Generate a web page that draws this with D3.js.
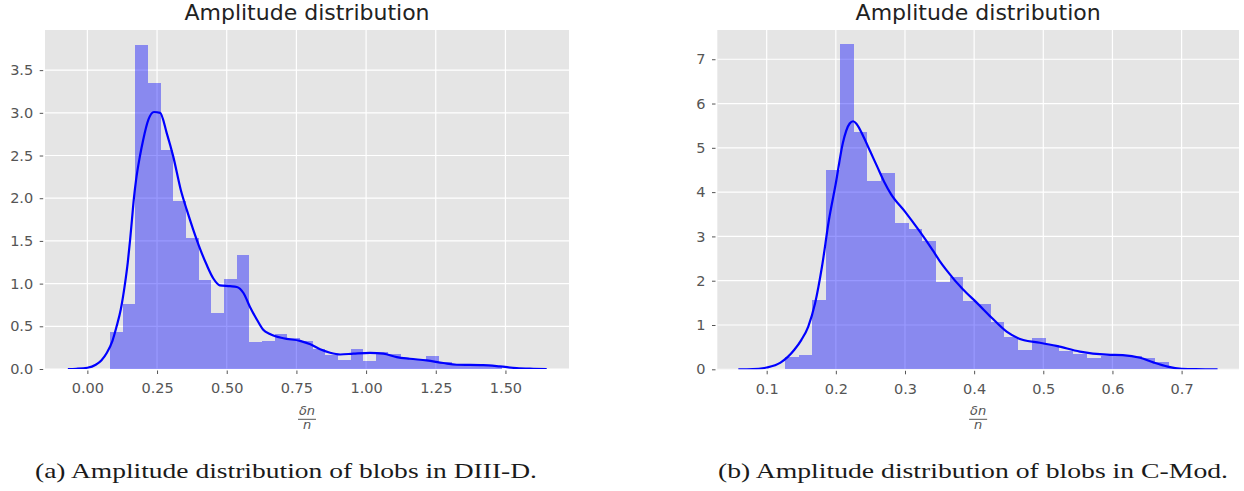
<!DOCTYPE html>
<html>
<head>
<meta charset="utf-8">
<script src="https://cdn.jsdelivr.net/npm/d3@7/dist/d3.min.js"></script>
<style>
  html, body { margin: 0; padding: 0; background: #ffffff; }
  svg { display: block; }
</style>
</head>
<body>
<svg id="chart" width="1244" height="491"></svg>
<script>
// ---------------- DATA ----------------
// (a) DIII-D
const leftBinEdges = [0.0814, 0.1268, 0.1722, 0.2176, 0.2630, 0.3085, 0.3539, 0.3993, 0.4447, 0.4901,
  0.5355, 0.5809, 0.6263, 0.6717, 0.7171, 0.7626, 0.8080, 0.8534, 0.8988, 0.9442, 0.9896,
  1.0350, 1.0804, 1.1258, 1.1712, 1.2167, 1.2621, 1.3075, 1.3529, 1.3983, 1.4437, 1.4891];
const leftBinHeights = [0.43, 0.76, 3.80, 3.35, 2.57, 1.97, 1.53, 1.04, 0.65, 1.05,
  1.33, 0.32, 0.33, 0.41, 0.36, 0.33, 0.23, 0.16, 0.11, 0.23,
  0.09, 0.20, 0.17, 0.12, 0.11, 0.15, 0.08, 0.06, 0.05, 0.05, 0.04];
const leftKdeX = [-0.07, -0.04, 0.00, 0.03, 0.05, 0.07, 0.09, 0.105, 0.12, 0.135, 0.145, 0.153, 0.16, 0.167,
  0.175, 0.189, 0.20, 0.219, 0.239, 0.261, 0.285, 0.308, 0.335, 0.357, 0.38, 0.404, 0.428, 0.452, 0.475,
  0.512, 0.536, 0.56, 0.583, 0.608, 0.631, 0.655, 0.703, 0.763, 0.80, 0.835, 0.871, 0.907, 0.954, 1.014,
  1.062, 1.11, 1.157, 1.217, 1.277, 1.325, 1.42, 1.48, 1.54, 1.60, 1.648];
const leftKdeY = [0.0, 0.003, 0.015, 0.05, 0.10, 0.19, 0.33, 0.50, 0.70, 1.00, 1.25, 1.50, 1.75, 2.00,
  2.22, 2.50, 2.68, 2.92, 3.01, 3.00, 2.76, 2.49, 2.10, 1.86, 1.63, 1.41, 1.22, 1.06, 0.98,
  0.97, 0.96, 0.89, 0.73, 0.58, 0.46, 0.41, 0.36, 0.33, 0.29, 0.23, 0.19, 0.17, 0.18, 0.19,
  0.18, 0.14, 0.12, 0.10, 0.07, 0.05, 0.045, 0.03, 0.01, 0.003, 0.0];
const leftXTicks = [0.00, 0.25, 0.50, 0.75, 1.00, 1.25, 1.50];
const leftXTickLabels = ["0.00", "0.25", "0.50", "0.75", "1.00", "1.25", "1.50"];
const leftYTicks = [0.0, 0.5, 1.0, 1.5, 2.0, 2.5, 3.0, 3.5];
const leftYTickLabels = ["0.0", "0.5", "1.0", "1.5", "2.0", "2.5", "3.0", "3.5"];

// (b) C-Mod
const rightBinEdges = [0.1265, 0.1463, 0.1662, 0.1860, 0.2059, 0.2257, 0.2455, 0.2654, 0.2852, 0.3051,
  0.3249, 0.3447, 0.3646, 0.3844, 0.4043, 0.4241, 0.4439, 0.4638, 0.4836, 0.5035,
  0.5233, 0.5431, 0.5630, 0.5828, 0.6027, 0.6225, 0.6423, 0.6622, 0.6820, 0.7019];
const rightBinHeights = [0.28, 0.33, 1.56, 4.50, 7.34, 5.35, 4.26, 4.44, 3.30, 3.16,
  2.90, 1.96, 2.09, 1.54, 1.47, 1.07, 0.74, 0.44, 0.71, 0.55,
  0.42, 0.35, 0.26, 0.30, 0.30, 0.29, 0.25, 0.16, 0.04];
const rightKdeX = [0.059, 0.08, 0.10, 0.12, 0.14, 0.15, 0.16, 0.17, 0.18, 0.19, 0.20, 0.21, 0.22, 0.225,
  0.23, 0.24, 0.25, 0.26, 0.27, 0.28, 0.30, 0.32, 0.34, 0.35, 0.36, 0.384, 0.404, 0.425, 0.447, 0.471,
  0.495, 0.519, 0.553, 0.592, 0.615, 0.64, 0.66, 0.68, 0.70, 0.72, 0.752];
const rightKdeY = [0.0, 0.005, 0.04, 0.15, 0.44, 0.66, 0.96, 1.49, 2.32, 3.37, 4.20, 5.10, 5.55, 5.60,
  5.54, 5.25, 4.91, 4.57, 4.23, 3.95, 3.56, 3.14, 2.69, 2.45, 2.24, 1.80, 1.50, 1.17, 0.85, 0.66,
  0.60, 0.53, 0.40, 0.33, 0.32, 0.26, 0.15, 0.06, 0.012, 0.002, 0.0];
const rightXTicks = [0.1, 0.2, 0.3, 0.4, 0.5, 0.6, 0.7];
const rightXTickLabels = ["0.1", "0.2", "0.3", "0.4", "0.5", "0.6", "0.7"];
const rightYTicks = [0, 1, 2, 3, 4, 5, 6, 7];
const rightYTickLabels = ["0", "1", "2", "3", "4", "5", "6", "7"];

const titles = ["Amplitude distribution", "Amplitude distribution"];
const captions = ["(a) Amplitude distribution of blobs in DIII-D.", "(b) Amplitude distribution of blobs in C-Mod."];

// ---------------- LAYOUT ----------------
const svg = d3.select("#chart");
const panels = [
  { x0: 45, x1: 569, y0: 30, y1: 369, xDomain: [-0.152, 1.728], yDomain: [0, 3.97],
    edges: leftBinEdges, heights: leftBinHeights, kx: leftKdeX, ky: leftKdeY,
    xt: leftXTicks, xtl: leftXTickLabels, yt: leftYTicks, ytl: leftYTickLabels,
    title: titles[0], caption: captions[0], capX0: 35, capX1: 537 },
  { x0: 717.3, x1: 1239, y0: 30, y1: 369.3, xDomain: [0.0286, 0.783], yDomain: [0, 7.66],
    edges: rightBinEdges, heights: rightBinHeights, kx: rightKdeX, ky: rightKdeY,
    xt: rightXTicks, xtl: rightXTickLabels, yt: rightYTicks, ytl: rightYTickLabels,
    title: titles[1], caption: captions[1], capX0: 718, capX1: 1228 }
];

const tickColor = "#555555";
const tickFont = "DejaVu Sans, sans-serif";

panels.forEach((p, i) => {
  const x = d3.scaleLinear().domain(p.xDomain).range([p.x0, p.x1]);
  const y = d3.scaleLinear().domain(p.yDomain).range([p.y1, p.y0]);
  const g = svg.append("g");

  // background
  g.append("rect").attr("x", p.x0).attr("y", p.y0)
    .attr("width", p.x1 - p.x0).attr("height", p.y1 - p.y0).attr("fill", "#e5e5e5");

  const clipId = "clip" + i;
  svg.append("clipPath").attr("id", clipId).append("rect")
    .attr("x", p.x0).attr("y", p.y0).attr("width", p.x1 - p.x0).attr("height", p.y1 - p.y0);

  // grid
  const grid = g.append("g").attr("clip-path", `url(#${clipId})`);
  grid.selectAll("line.gx").data(p.xt).join("line")
    .attr("x1", d => x(d)).attr("x2", d => x(d)).attr("y1", p.y0).attr("y2", p.y1)
    .attr("stroke", "#ffffff").attr("stroke-width", 1.2);
  grid.selectAll("line.gy").data(p.yt).join("line").attr("class", "gy")
    .attr("x1", p.x0).attr("x2", p.x1).attr("y1", d => y(d)).attr("y2", d => y(d))
    .attr("stroke", "#ffffff").attr("stroke-width", 1.2);

  // bars
  const bins = p.heights.map((h, k) => ({ a: p.edges[k], b: p.edges[k + 1], h }));
  g.append("g").attr("clip-path", `url(#${clipId})`)
    .selectAll("rect").data(bins).join("rect")
    .attr("x", d => x(d.a)).attr("width", d => x(d.b) - x(d.a))
    .attr("y", d => y(d.h)).attr("height", d => y(0) - y(d.h))
    .attr("fill", "#0000ff").attr("fill-opacity", 0.4)
    .attr("shape-rendering", "crispEdges");

  // kde
  const pts = p.kx.map((v, k) => [v, p.ky[k]]);
  g.append("path").attr("clip-path", `url(#${clipId})`)
    .datum(pts)
    .attr("d", d3.line().x(d => x(d[0])).y(d => y(d[1])).curve(d3.curveMonotoneX))
    .attr("fill", "none").attr("stroke", "#0000ff").attr("stroke-width", 2.2);

  // x axis
  const xAxis = d3.axisBottom(x).tickValues(p.xt).tickFormat((d, k) => p.xtl[k])
    .tickSizeInner(3.5).tickSizeOuter(0).tickPadding(9);
  const gx = g.append("g").attr("transform", `translate(0,${p.y1 + 1.5})`).call(xAxis);
  gx.select(".domain").remove();
  gx.selectAll("line").attr("stroke", tickColor).attr("stroke-width", 1);
  gx.selectAll("text").attr("fill", tickColor).style("font-family", tickFont).style("font-size", "14.5px");

  // y axis
  const yAxis = d3.axisLeft(y).tickValues(p.yt).tickFormat((d, k) => p.ytl[k])
    .tickSizeInner(3.5).tickSizeOuter(0).tickPadding(6.5);
  const gy = g.append("g").attr("transform", `translate(${p.x0 - 1.8},0)`).call(yAxis);
  gy.select(".domain").remove();
  gy.selectAll("line").attr("stroke", tickColor).attr("stroke-width", 1);
  gy.selectAll("text").attr("fill", tickColor).style("font-family", tickFont).style("font-size", "14.5px");

  // title
  const cx = (p.x0 + p.x1) / 2;
  g.append("text").attr("x", cx).attr("y", 20).attr("text-anchor", "middle")
    .style("font-family", tickFont).style("font-size", "22px").attr("fill", "#222222")
    .text(p.title);

  // x label: δn / n fraction
  const lab = g.append("g").attr("fill", tickColor)
    .style("font-family", tickFont).style("font-style", "italic").style("font-size", "13px");
  lab.append("text").attr("x", cx).attr("y", 415).attr("text-anchor", "middle").text("δn");
  lab.append("line").attr("x1", cx - 9).attr("x2", cx + 9).attr("y1", 419.3).attr("y2", 419.3)
    .attr("stroke", tickColor).attr("stroke-width", 1);
  lab.append("text").attr("x", cx).attr("y", 428.5).attr("text-anchor", "middle").text("n");

  // caption (serif, fitted to the measured width)
  svg.append("text").attr("x", p.capX0).attr("y", 478)
    .style("font-family", "Liberation Serif, serif").style("font-size", "21px").attr("fill", "#1a1a1a")
    .attr("textLength", p.capX1 - p.capX0).attr("lengthAdjust", "spacingAndGlyphs")
    .text(p.caption);
});
</script>
</body>
</html>
